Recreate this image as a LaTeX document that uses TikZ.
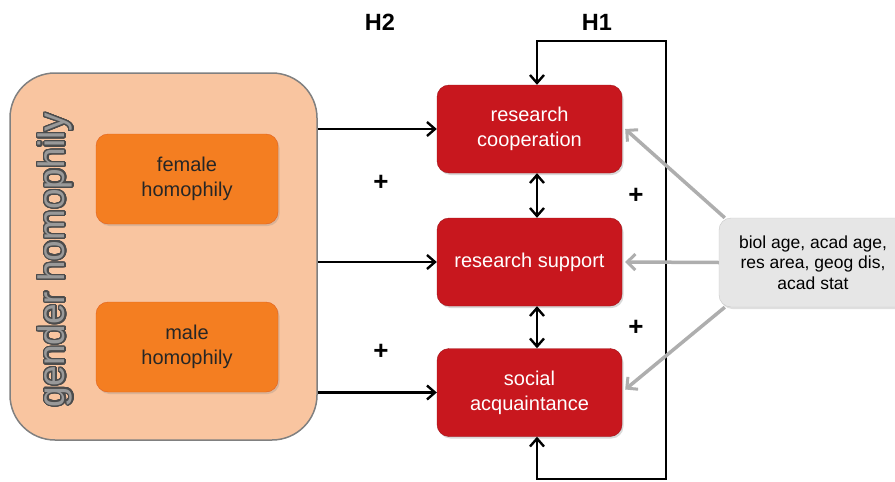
\documentclass[tikz,border=0pt]{standalone}
\usepackage{fontspec}
\setmainfont{Liberation Sans}
\usepackage{tikz}
\usepackage{contour}
\usetikzlibrary{arrows.meta, calc, shadows}

\definecolor{peach}{HTML}{F9C5A0}
\definecolor{peachline}{HTML}{808080}
\definecolor{orangefill}{HTML}{F47E21}
\definecolor{orangeline}{HTML}{E25F1C}
\definecolor{redfill}{HTML}{C8171E}
\definecolor{greyfill}{HTML}{E6E6E6}
\definecolor{greyline}{HTML}{C8C8C8}
\definecolor{greyarrow}{HTML}{AEAEAE}
\contourlength{1.3pt}
\contournumber{32}

\begin{document}
\begin{tikzpicture}[x=1pt, y=-1pt,
	redbox/.style={draw=redfill!80!black, fill=redfill, rounded corners=12pt, minimum width=185pt, minimum height=88pt, align=center, text=white, font=\fontsize{20}{25}\selectfont, drop shadow={shadow xshift=1.5pt, shadow yshift=-2pt, opacity=.3}},
	orangebox/.style={draw=orangeline, fill=orangefill, rounded corners=12pt, minimum width=182pt, minimum height=90pt, align=center, text=black!85, font=\fontsize{20}{25}\selectfont, drop shadow={shadow xshift=1.5pt, shadow yshift=-2pt, opacity=.25}},
	barb/.tip={Straight Barb[length=8pt, width=14pt, line width=2.4pt]},
	arr/.style={line width=2.8pt, -barb},
	arrboth/.style={line width=2.8pt, barb-barb},
	grayarr/.style={line width=3.5pt, greyarrow, -{Straight Barb[length=8pt, width=16pt, line width=3pt]}},
	plus/.style={font=\bfseries\fontsize{26}{26}\selectfont},
	hyp/.style={font=\bfseries\fontsize{23.5}{23.5}\selectfont}]
	\useasboundingbox (0,0) rectangle (895,482);

	% Gender homophily
	\node[draw=peachline, line width=1.5pt, fill=peach, rounded corners=45pt, minimum width=307pt, minimum height=367pt] (gender) at (163.5,256.5) {};
	\node[rotate=90, font=\fontsize{37}{37}\selectfont, inner sep=0pt] (gendertext) at (56,260) {\contour{black!70}{\textcolor{black!40}{gender homophily}}};
	\node[orangebox] (female) at (187,179) {female\\homophily};
	\node[orangebox] (male) at (187,347) {male\\homophily};

	% Outcomes
	\node[redbox] (coop) at (529.5,129) {research\\cooperation};
	\node[redbox] (support) at (529.5,262) {research support};
	\node[redbox] (social) at (529.5,392.5) {social\\acquaintance};

	% Controls
	\node[draw=greyline, fill=greyfill, rounded corners=12pt, minimum width=188pt, minimum height=89pt, align=center, font=\fontsize{17.5}{20.5}\selectfont, drop shadow={shadow xshift=1.5pt, shadow yshift=-2pt, opacity=.25}] (controls) at (813,262.5) {biol age, acad age,\\res area, geog dis,\\acad stat};

	% H2 arrows
	\draw[arr] (gender.east |- coop.west) -- (coop.west);
	\draw[arr] (gender.east |- support.west) -- (support.west);
	\draw[arr] (gender.east |- social.west) -- (social.west);

	% Between outcomes
	\coordinate (mid) at (537,0);
	\draw[arrboth] (mid |- coop.south) -- (mid |- support.north);
	\draw[arrboth] (mid |- support.south) -- (mid |- social.north);

	% H1 loop
	\coordinate (h1top) at (537,41);
	\coordinate (h1right) at (666,41);
	\coordinate (h1bottom) at (537,479);
	\draw[arrboth, line join=miter] (h1top |- social.south) -- (h1bottom) -- (h1right |- h1bottom) -- (h1right) -- (h1top) -- (h1top |- coop.north);

	% Control arrows
	\draw[grayarr] ($(controls.north west)+(6,0)$) -- ($(coop.east)+(3,0)$);
	\draw[grayarr] (controls.west) -- ($(support.east)+(3,0)$);
	\draw[grayarr] ($(controls.south west)+(6,0)$) -- ($(social.east)+(3,-3)$);

	% Labels
	\node[hyp] (h2) at (380,22) {H2};
	\node[hyp] (h1) at (597,22) {H1};
	\node[plus] (p1) at (381,183) {+};
	\node[plus] (p2) at (381,352) {+};
	\node[plus] (p3) at (636,196) {+};
	\node[plus] (p4) at (636,328) {+};
\end{tikzpicture}
\end{document}
